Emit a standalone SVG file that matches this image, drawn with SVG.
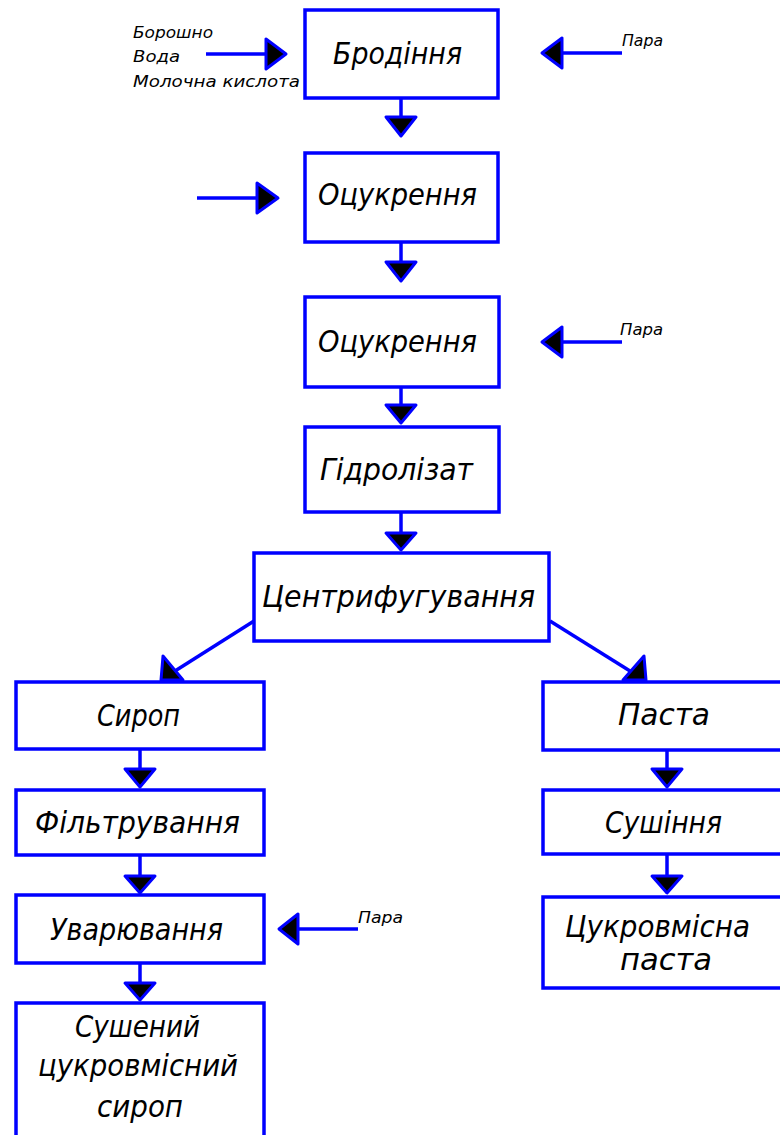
<svg xmlns="http://www.w3.org/2000/svg" width="780" height="1135" viewBox="0 0 780 1135">
<style>
.box{fill:#fff;stroke:#0000ff;stroke-width:3.5;}
.ln{stroke:#0000ff;stroke-width:3.5;fill:none;}
.ah{fill:#000;stroke:#0000ff;stroke-width:3;stroke-linejoin:round;}
.t{font-family:"DejaVu Sans Condensed","DejaVu Sans",sans-serif;font-style:italic;font-size:31px;fill:#000;text-anchor:start;}
.s{font-family:"DejaVu Sans Condensed","DejaVu Sans",sans-serif;font-style:italic;font-size:16px;fill:#000;}
</style>
<rect width="780" height="1135" fill="#fff"/>
<g id="connectors">
  <!-- inputs top-left -->
  <line class="ln" x1="206" y1="54" x2="266" y2="54"/>
  <polygon class="ah" points="266,39 266,69 286,54"/>
  <!-- Пара top -->
  <line class="ln" x1="562" y1="53" x2="622" y2="53"/>
  <polygon class="ah" points="562,38 562,68 542,53"/>
  <!-- left into box2 -->
  <line class="ln" x1="197" y1="198" x2="257" y2="198"/>
  <polygon class="ah" points="257,183 257,213 278,198"/>
  <!-- Пара box3 -->
  <line class="ln" x1="562" y1="342" x2="622" y2="342"/>
  <polygon class="ah" points="562,327 562,357 542,342"/>
  <!-- Пара Уварювання -->
  <line class="ln" x1="298" y1="929" x2="358" y2="929"/>
  <polygon class="ah" points="298,914 298,944 279,929"/>
  <!-- vertical center chain -->
  <line class="ln" x1="401" y1="98" x2="401" y2="117"/>
  <polygon class="ah" points="386,117 416,117 401,136"/>
  <line class="ln" x1="401" y1="242" x2="401" y2="262"/>
  <polygon class="ah" points="386,262 416,262 401,281"/>
  <line class="ln" x1="401" y1="387" x2="401" y2="405"/>
  <polygon class="ah" points="386,405 416,405 401,423"/>
  <line class="ln" x1="401" y1="512" x2="401" y2="533"/>
  <polygon class="ah" points="386,533 416,533 401,550"/>
  <!-- diagonals -->
  <line class="ln" x1="254" y1="621" x2="175" y2="671"/>
  <polygon class="ah" points="163,656 161,680 183,680"/>
  <line class="ln" x1="550" y1="621" x2="630" y2="671"/>
  <polygon class="ah" points="644,656 646,680 623,680"/>
  <!-- left chain -->
  <line class="ln" x1="140" y1="749" x2="140" y2="769"/>
  <polygon class="ah" points="125,769 155,769 140,787"/>
  <line class="ln" x1="140" y1="855" x2="140" y2="876"/>
  <polygon class="ah" points="125,876 155,876 140,893"/>
  <line class="ln" x1="140" y1="963" x2="140" y2="983"/>
  <polygon class="ah" points="125,983 155,983 140,1000"/>
  <!-- right chain -->
  <line class="ln" x1="667" y1="750" x2="667" y2="769"/>
  <polygon class="ah" points="652,769 682,769 667,787"/>
  <line class="ln" x1="667" y1="854" x2="667" y2="876"/>
  <polygon class="ah" points="652,876 682,876 667,893"/>
</g>
<g id="labels">
  <text class="s" x="133" y="38" textLength="80" lengthAdjust="spacingAndGlyphs">Борошно</text>
  <text class="s" x="133" y="62" textLength="47" lengthAdjust="spacingAndGlyphs">Вода</text>
  <text class="s" x="133" y="87" textLength="167" lengthAdjust="spacingAndGlyphs">Молочна кислота</text>
  <text class="s" x="622" y="46" font-size="14" textLength="41" lengthAdjust="spacingAndGlyphs">Пара</text>
  <text class="s" x="620" y="335" font-size="14" textLength="43" lengthAdjust="spacingAndGlyphs">Пара</text>
  <text class="s" x="358" y="923" font-size="14" textLength="45" lengthAdjust="spacingAndGlyphs">Пара</text>
</g>
<g id="n1"><rect class="box" x="305" y="10" width="193" height="88"/><text class="t" x="333" y="64" textLength="129" lengthAdjust="spacingAndGlyphs">Бродіння</text></g>
<g id="n2"><rect class="box" x="305" y="153" width="193" height="89"/><text class="t" x="318" y="205" textLength="159" lengthAdjust="spacingAndGlyphs">Оцукрення</text></g>
<g id="n3"><rect class="box" x="305" y="297" width="194" height="90"/><text class="t" x="318" y="352" textLength="159" lengthAdjust="spacingAndGlyphs">Оцукрення</text></g>
<g id="n4"><rect class="box" x="305" y="427" width="194" height="85"/><text class="t" x="320" y="480" textLength="153" lengthAdjust="spacingAndGlyphs">Гідролізат</text></g>
<g id="n5"><rect class="box" x="254" y="553" width="295" height="88"/><text class="t" x="262" y="607" textLength="273" lengthAdjust="spacingAndGlyphs">Центрифугування</text></g>
<g id="n6"><rect class="box" x="16" y="682" width="248" height="67"/><text class="t" x="97" y="726" textLength="83" lengthAdjust="spacingAndGlyphs">Сироп</text></g>
<g id="n7"><rect class="box" x="16" y="790" width="248" height="65"/><text class="t" x="35" y="833" textLength="205" lengthAdjust="spacingAndGlyphs">Фільтрування</text></g>
<g id="n8"><rect class="box" x="16" y="895" width="248" height="68"/><text class="t" x="50" y="940" textLength="173" lengthAdjust="spacingAndGlyphs">Уварювання</text></g>
<g id="n9"><rect class="box" x="16" y="1003" width="248" height="150"/>
  <text class="t" x="75" y="1037" textLength="125" lengthAdjust="spacingAndGlyphs">Сушений</text>
  <text class="t" x="38" y="1076" textLength="200" lengthAdjust="spacingAndGlyphs">цукровмісний</text>
  <text class="t" x="97" y="1117" textLength="86" lengthAdjust="spacingAndGlyphs">сироп</text></g>
<g id="n10"><rect class="box" x="543" y="682" width="250" height="68"/><text class="t" x="618" y="725" textLength="92" lengthAdjust="spacingAndGlyphs">Паста</text></g>
<g id="n11"><rect class="box" x="543" y="790" width="250" height="64"/><text class="t" x="605" y="833" textLength="117" lengthAdjust="spacingAndGlyphs">Сушіння</text></g>
<g id="n12"><rect class="box" x="543" y="897" width="250" height="91"/>
  <text class="t" x="565" y="937" textLength="185" lengthAdjust="spacingAndGlyphs">Цукровмісна</text>
  <text class="t" x="620" y="970" textLength="92" lengthAdjust="spacingAndGlyphs">паста</text></g>
</svg>
